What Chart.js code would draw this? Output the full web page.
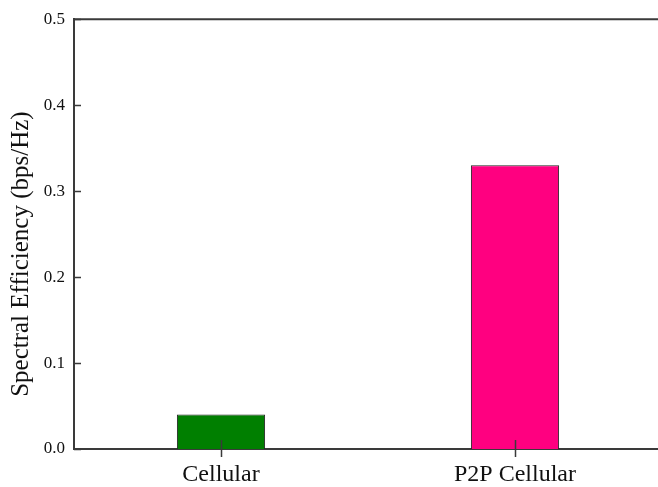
<!DOCTYPE html>
<html>
<head>
<meta charset="utf-8">
<script src="https://cdn.jsdelivr.net/npm/chart.js@4"></script>
<style>
    html, body { margin: 0; padding: 0; background: #fff; overflow: hidden; }
    #wrap { width: 662px; height: 487px; }
</style>
</head>
<body>
<div id="wrap"><canvas id="se_graph"></canvas></div>
<script>
const categories = ["Cellular", "P2P Cellular"];
const values     = [0.04, 0.33];
const bar_colors = ["#007F00", "#FF0080"];
const y_ticks    = [0.0, 0.1, 0.2, 0.3, 0.4, 0.5];
const y_title    = "Spectral Efficiency (bps/Hz)";

const axis_color = "#3a3a3a";

// inward ticks, the top frame line and the y title (sits a bit below centre, like the original)
const frame_plugin = {
    id: "frame_plugin",
    afterDatasetsDraw(chart) {
        const ctx  = chart.ctx;
        const area = chart.chartArea;
        const xs   = chart.scales.x;
        const ys   = chart.scales.y;
        ctx.save();
        ctx.strokeStyle = axis_color;
        ctx.lineWidth = 1.5;
        ctx.beginPath();
        for (let v of y_ticks) {
            let py = Math.round(ys.getPixelForValue(v)) + 0.5;
            ctx.moveTo(area.left, py);
            ctx.lineTo(area.left + 7, py);
        }
        for (let i = 0; i < categories.length; i++) {
            let px = Math.round(xs.getPixelForValue(i)) + 0.5;
            ctx.moveTo(px, area.bottom + 8);
            ctx.lineTo(px, area.bottom - 9);
        }
        ctx.stroke();
        ctx.lineWidth = 2;
        ctx.beginPath();
        ctx.moveTo(area.left, area.top);
        ctx.lineTo(area.right, area.top);
        ctx.stroke();

        ctx.translate(21, (area.top + area.bottom) / 2 + 20);
        ctx.rotate(-Math.PI / 2);
        ctx.fillStyle = "#111111";
        ctx.font = "25px 'Liberation Serif'";
        ctx.textAlign = "center";
        ctx.textBaseline = "middle";
        ctx.fillText(y_title, 0, 0);
        ctx.restore();
    }
};

const ctx = document.getElementById("se_graph").getContext("2d");
const myChart = new Chart(ctx, {
    type: "bar",
    data: {
        labels: categories,
        datasets: [{
            data: values,
            backgroundColor: bar_colors,
            borderColor: "#222222",
            borderWidth: 1,
            barPercentage: 0.3,
            categoryPercentage: 1.0
        }]
    },
    options: {
        responsive: true,
        maintainAspectRatio: false,
        animation: false,
        layout: { padding: { top: 7, right: 0, left: 0, bottom: 0 } },
        scales: {
            x: {
                afterFit: function(scale) { scale.height = 38; },
                grid: { display: false, drawTicks: false },
                border: { display: true, color: axis_color, width: 2 },
                ticks: {
                    color: "#111111",
                    padding: 11,
                    font: { family: "Liberation Serif", size: 24 }
                }
            },
            y: {
                min: 0,
                max: 0.5,
                afterBuildTicks: function(scale) {
                    scale.ticks = y_ticks.map(v => ({ value: v }));
                },
                afterFit: function(scale) { scale.width = 74; },
                grid: { display: false, drawTicks: false },
                border: { display: true, color: axis_color, width: 2 },
                ticks: {
                    color: "#111111",
                    padding: 9,
                    font: { family: "Liberation Serif", size: 17 },
                    callback: function(v) { return Number(v).toFixed(1); }
                }
            }
        },
        plugins: {
            legend: { display: false },
            tooltip: { enabled: false }
        }
    },
    plugins: [frame_plugin]
});
</script>
</body>
</html>
